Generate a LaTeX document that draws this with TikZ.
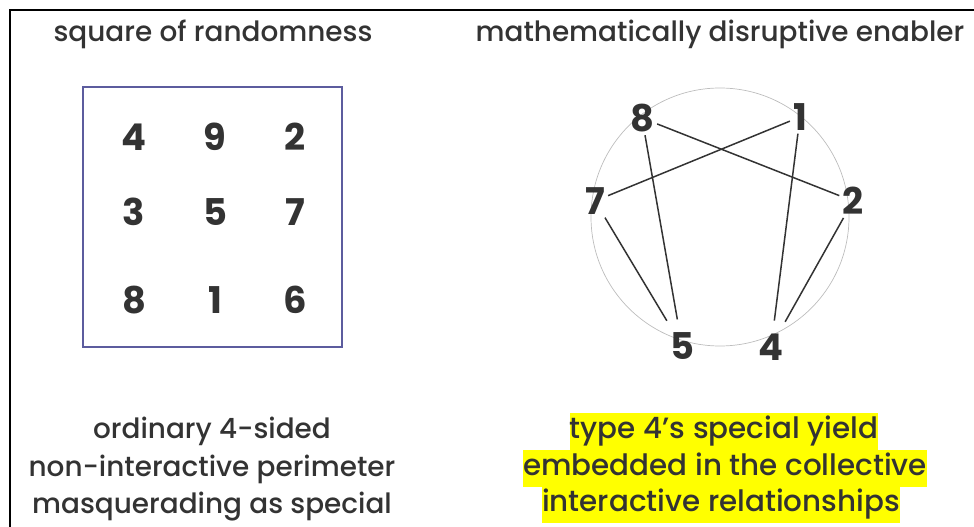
\documentclass[tikz,border=0pt]{standalone}
\usepackage{fontspec}
\setmainfont{Poppins}[UprightFont=* Medium,BoldFont=* Bold]
\definecolor{inkgray}{HTML}{333333}
\definecolor{boxslate}{HTML}{5C5C9E}
\definecolor{ringgray}{HTML}{BDBDBD}
\definecolor{hiyellow}{HTML}{FFFF00}

\begin{document}
\begin{tikzpicture}[
  x=1bp,y=-1bp,
  every node/.style={text=inkgray},
  ttl/.style={font=\fontsize{28}{32}\selectfont,anchor=base},
  capline/.style={font=\fontsize{28}{32}\selectfont,anchor=base},
  digit/.style={font=\fontsize{37}{42}\selectfont\bfseries,inner sep=3bp},
  hl/.style={fill=hiyellow,inner xsep=0pt,inner ysep=0pt,minimum height=37bp,
    text height=21bp,text depth=7bp,font=\fontsize{29.5}{34}\selectfont},
  link/.style={draw=inkgray,line width=1.5bp},
  ring/.style={draw=ringgray,line width=0.7bp}
]

% ---- canvas ----
\useasboundingbox (0,0) rectangle (974,527);
\draw[black,line width=2bp] (974,10) -- (10,10) -- (10,527);

% ---- titles ----
\node[ttl] (ttlL) at (213,42) {square of randomness};
\node[ttl] (ttlR) at (720,42) {mathematically disruptive enabler};

% ---- square of randomness ----
\draw[boxslate,line width=1.2bp] (83,87) rectangle (342,347);
\foreach \v/\x/\y in {4/134/137,9/215/137,2/295/137,
                      3/134/212,5/215/212,7/295/212,
                      8/134/300,1/215/300,6/295/300}{
  \node[digit] (sq\v) at (\x,\y) {\v};
}

% ---- enabler circle ----
\draw[ring] (720,217) circle[radius=129bp];
\node[digit] (n8) at (642,118) {8};
\node[digit] (n1) at (800,117) {1};
\node[digit] (n7) at (595,201) {7};
\node[digit] (n2) at (853,201) {2};
\node[digit] (n5) at (682,346) {5};
\node[digit] (n4) at (771,347) {4};

% ---- connections ----
\draw[link] (n1) -- (n7);
\draw[link] (n8) -- (n2);
\draw[link,shorten <=10bp] (n5) -- (n8);
\draw[link,shorten <=10bp] (n5) -- (n7);
\draw[link,shorten <=10bp] (n4) -- (n1);
\draw[link,shorten <=10bp] (n4) -- (n2);

% ---- captions ----
\node[capline] (capL1) at (212,438) {ordinary 4-sided};
\node[capline] (capL2) at (212,476) {non-interactive perimeter};
\node[capline] (capL3) at (212,513) {masquerading as special};

\node[hl] (capR1) at (724,431) {type 4's special yield\ };
\node[hl] (capR2) at (725,468) {embedded in the collective\ };
\node[hl] (capR3) at (721,504) {interactive relationships};

\end{tikzpicture}
\end{document}
